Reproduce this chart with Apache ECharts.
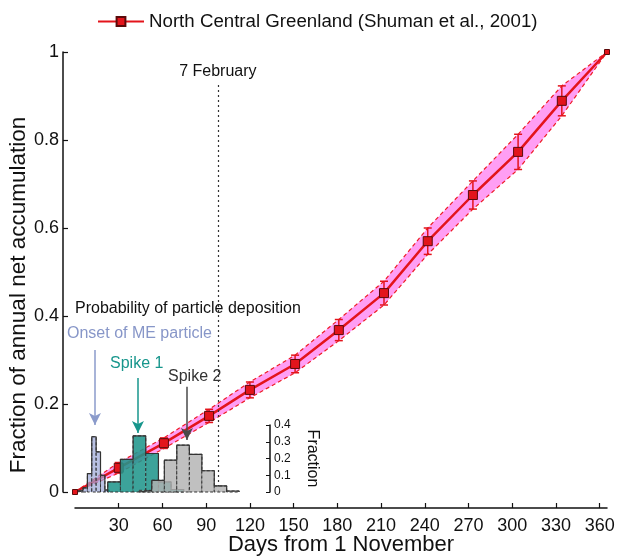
<!DOCTYPE html>
<html>
<head>
<meta charset="utf-8">
<script src="https://cdn.jsdelivr.net/npm/echarts@6/dist/echarts.min.js"></script>
<style>
  html, body { margin: 0; padding: 0; background: #fff; }
  #chart { width: 617px; height: 557px; }
</style>
</head>
<body>
<div id="chart"></div>
<script>
// accumulation curve, first day of each month from 1 November
var monthDays = [0, 30, 61, 92, 120, 151, 181, 212, 242, 273, 304, 334, 365];
var accumFrac = [0, 0.055, 0.111, 0.173, 0.232, 0.291, 0.368, 0.452, 0.57, 0.675, 0.773, 0.889, 1];
var accumErr = [0, 0.012, 0.012, 0.015, 0.018, 0.02, 0.024, 0.027, 0.03, 0.032, 0.04, 0.034, 0];

// deposition probability histograms (bin centre in days, fraction)
var onsetDays = [4, 7, 10, 13, 16, 19, 22];
var onsetFrac = [0.01, 0.025, 0.11, 0.33, 0.24, 0.1, 0.012];
var onsetWidth = 3;

var spike1Days = [26.8, 35.5, 44.2, 52.9, 61.6, 70.3];
var spike1Frac = [0.06, 0.195, 0.335, 0.23, 0.06, 0.015];
var spike1Width = 8.7;

var spike2Days = [48.3, 57, 65.6, 74.1, 82.8, 91.3, 99.8, 108.3];
var spike2Frac = [0.01, 0.07, 0.19, 0.28, 0.225, 0.127, 0.036, 0.006];
var spike2Width = 8.6;

var xTicks = [30, 60, 90, 120, 150, 180, 210, 240, 270, 300, 330, 360];
var febDay = 98;
var seriesName = 'North Central Greenland (Shuman et al., 2001)';

var FONT = 'Liberation Sans, Arial, sans-serif';
var RED = '#e3141b';

var dom = document.getElementById('chart');
var myChart = echarts.init(dom);

var mainData = monthDays.map(function (d, i) {
  var item = { value: [d, accumFrac[i]] };
  if (i === 0 || i === monthDays.length - 1) item.symbolSize = 5;
  return item;
});
var bandData = monthDays.map(function (d, i) {
  return [d, accumFrac[i] - accumErr[i], accumFrac[i] + accumErr[i]];
});
var errData = bandData.filter(function (r, i) { return accumErr[i] > 0; });

function histBars(days, frac) {
  return days.map(function (d, i) { return [d, frac[i]]; });
}
function histOutline(days, frac, w) {
  var pts = [[days[0] - w / 2, 0]];
  days.forEach(function (d, i) {
    pts.push([d - w / 2, frac[i]]);
    pts.push([d + w / 2, frac[i]]);
  });
  pts.push([days[days.length - 1] + w / 2, 0]);
  return pts;
}
function histRender(w, fill) {
  return function (params, api) {
    var c = api.value(0), h = api.value(1);
    var p0 = api.coord([c - w / 2, h]);
    var p1 = api.coord([c + w / 2, 0]);
    return {
      type: 'rect',
      shape: { x: p0[0], y: p0[1], width: p1[0] - p0[0], height: p1[1] - p0[1] },
      style: { fill: fill, stroke: '#333', lineWidth: 1, lineDash: [3, 2] }
    };
  };
}
function histSeries(days, frac, w, fill, z) {
  return [{
    type: 'custom',
    xAxisIndex: 1, yAxisIndex: 1,
    renderItem: histRender(w, fill),
    data: histBars(days, frac),
    encode: { x: 0, y: 1 },
    silent: true, z: z
  }, {
    type: 'line',
    xAxisIndex: 1, yAxisIndex: 1,
    data: histOutline(days, frac, w),
    symbol: 'none',
    lineStyle: { color: '#333', width: 1.2 },
    silent: true, z: z
  }];
}

function arrow(x, y0, y1, color) {
  return [
    { coord: [x, y0], symbol: 'none', lineStyle: { color: color, width: 1.5, type: 'solid' }, label: { show: false } },
    { coord: [x, y1], symbol: 'arrow', symbolSize: [9, 12] }
  ];
}

var option = {
  backgroundColor: '#fff',
  animation: false,
  textStyle: { fontFamily: FONT },
  legend: {
    data: [seriesName],
    left: 92, top: 7,
    itemWidth: 46, itemHeight: 11,
    textStyle: { fontSize: 18.7, color: '#111', fontFamily: FONT }
  },
  grid: [
    { left: 75, right: 10, top: 52, bottom: 65, containLabel: false, outerBoundsMode: 'none' },
    { left: 75, width: 195, top: 425, bottom: 65, containLabel: false, outerBoundsMode: 'none' }
  ],
  xAxis: [{
    type: 'value', gridIndex: 0, min: 0, max: 365, offset: 16,
    axisLine: { onZero: false, lineStyle: { color: '#111', width: 1.5 } },
    axisTick: { inside: true, length: 5, customValues: xTicks, lineStyle: { color: '#111', width: 1.2 } },
    axisLabel: { customValues: xTicks, fontSize: 18, color: '#111', margin: 9 },
    splitLine: { show: false },
    name: 'Days from 1 November', nameLocation: 'middle', nameGap: 26, nameMoveOverlap: false,
    nameTextStyle: { fontSize: 22, color: '#111' }
  }, {
    type: 'value', gridIndex: 1, min: 0, max: 195 / 1.4575, show: false
  }],
  yAxis: [{
    type: 'value', gridIndex: 0, min: 0, max: 1, interval: 0.2, offset: 12,
    axisLine: { show: true, onZero: false, lineStyle: { color: '#111', width: 1.5 } },
    axisTick: { show: true, inside: true, length: 5, lineStyle: { color: '#111', width: 1.2 } },
    axisLabel: { fontSize: 18, color: '#111', margin: 4 },
    splitLine: { show: false }
  }, {
    type: 'value', gridIndex: 1, min: 0, max: 0.4, interval: 0.1, position: 'right',
    axisLine: { show: true, onZero: false, lineStyle: { color: '#111', width: 1.5 } },
    axisTick: { show: true, inside: true, length: 4, lineStyle: { color: '#111' } },
    axisLabel: { fontSize: 12, color: '#111', margin: 4 },
    splitLine: { show: false },
    name: 'Fraction', nameLocation: 'middle', nameRotate: -90, nameGap: 34, nameMoveOverlap: false,
    nameTextStyle: { fontSize: 16, color: '#111' }
  }],
  graphic: [
    { type: 'text', x: 19, y: 295, rotation: Math.PI / 2, z: 100,
      style: { text: 'Fraction of annual net accumulation', font: '22.5px ' + FONT, fill: '#111', align: 'center', verticalAlign: 'middle' } },
    { type: 'text', left: 75, top: 301, z: 100, style: { text: 'Probability of particle deposition', font: '16px ' + FONT, fill: '#111' } },
    { type: 'text', left: 67, top: 326, z: 100, style: { text: 'Onset of ME particle', font: '16px ' + FONT, fill: '#8796c8' } },
    { type: 'text', left: 110, top: 356, z: 100, style: { text: 'Spike 1', font: '16px ' + FONT, fill: '#17968c' } },
    { type: 'text', left: 168, top: 369, z: 100, style: { text: 'Spike 2', font: '16px ' + FONT, fill: '#333' } }
  ],
  series: [
    {
      name: 'band', type: 'custom', data: bandData, z: 2, silent: true,
      encode: { x: 0, y: [1, 2] },
      renderItem: function (params, api) {
        if (params.dataIndex !== 0) return null;
        var upper = [], lower = [];
        for (var i = 0; i < monthDays.length; i++) {
          upper.push(api.coord([monthDays[i], accumFrac[i] + accumErr[i]]));
          lower.push(api.coord([monthDays[i], accumFrac[i] - accumErr[i]]));
        }
        var dash = { stroke: '#ee1c25', lineWidth: 1.2, lineDash: [4, 3], fill: null };
        return {
          type: 'group',
          children: [
            { type: 'polygon', shape: { points: upper.concat(lower.slice().reverse()) }, style: { fill: '#ff9ef4' } },
            { type: 'polyline', shape: { points: upper }, style: dash },
            { type: 'polyline', shape: { points: lower }, style: dash }
          ]
        };
      }
    },
    {
      name: seriesName, type: 'line', data: mainData,
      symbol: 'rect', symbolSize: 9, z: 3,
      lineStyle: { color: RED, width: 2.5 },
      itemStyle: { color: RED, borderColor: '#5a0a0a', borderWidth: 1 },
      markLine: {
        silent: true,
        symbol: ['none', 'none'],
        data: [
          [
            { coord: [febDay, 0], lineStyle: { color: '#333', width: 1.2, type: [2, 3] },
              label: { show: true, position: 'end', formatter: '7 February', fontSize: 16, color: '#111', distance: 5 } },
            { coord: [febDay, 0.925] }
          ],
          arrow(13.7, 0.323, 0.152, '#8b9bcb'),
          arrow(43.2, 0.259, 0.134, '#17968c'),
          arrow(76.8, 0.239, 0.118, '#4a4a4a')
        ]
      }
    },
    {
      name: 'errbars', type: 'custom', data: errData, z: 3, silent: true,
      encode: { x: 0, y: [1, 2] },
      renderItem: function (params, api) {
        var x = api.value(0);
        var lo = api.coord([x, api.value(1)]);
        var hi = api.coord([x, api.value(2)]);
        var cap = 4;
        var st = { stroke: RED, lineWidth: 1.5 };
        return {
          type: 'group',
          children: [
            { type: 'line', shape: { x1: lo[0], y1: lo[1], x2: hi[0], y2: hi[1] }, style: st },
            { type: 'line', shape: { x1: lo[0] - cap, y1: lo[1], x2: lo[0] + cap, y2: lo[1] }, style: st },
            { type: 'line', shape: { x1: hi[0] - cap, y1: hi[1], x2: hi[0] + cap, y2: hi[1] }, style: st }
          ]
        };
      }
    }
  ]
    .concat(histSeries(onsetDays, onsetFrac, onsetWidth, 'rgba(155,167,215,0.7)', 5))
    .concat(histSeries(spike1Days, spike1Frac, spike1Width, 'rgba(33,150,140,0.88)', 6))
    .concat(histSeries(spike2Days, spike2Frac, spike2Width, 'rgba(178,178,178,0.82)', 7))
};

if (option && typeof option === 'object') {
  myChart.setOption(option, true);
}
</script>
</body>
</html>
